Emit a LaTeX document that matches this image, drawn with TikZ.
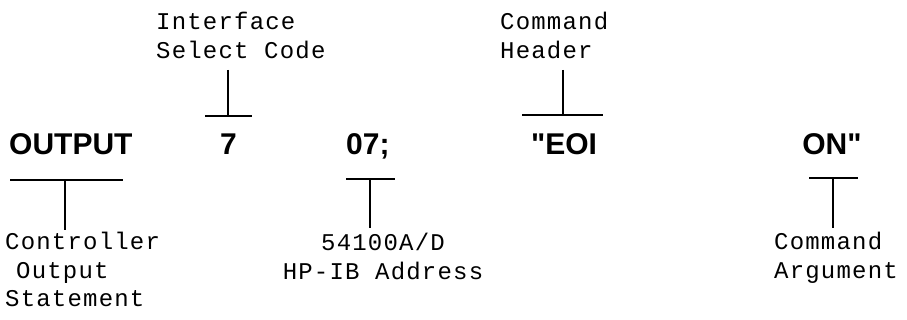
\documentclass[tikz,border=0pt]{standalone}
\usepackage{fontspec}
\setmainfont{Liberation Sans}
\newfontfamily\monofnt[LetterSpace=5]{Liberation Mono}
\newfontfamily\boldfnt{Liberation Sans Bold}
\begin{document}
\begin{tikzpicture}[x=1pt,y=-1pt,
  lbl/.style={inner sep=0pt,font=\monofnt\fontsize{24}{28.5}\selectfont},
  kw/.style={inner sep=0pt,anchor=base,font=\boldfnt\fontsize{30}{34}\selectfont},
  tee/.style={line width=1.1pt}]
\useasboundingbox (0,0) rectangle (907,320);
% keywords
\node[kw,anchor=base west] (out) at (9,155) {OUTPUT};
\node[kw] (isc) at (228.5,155) {7};
\node[kw,anchor=base west] (addr) at (346,155) {07;};
\node[kw] (hdr) at (564,155) {"EOI};
\node[kw] (arg) at (832,155) {ON"};
% labels
\node[lbl,anchor=north west,align=left] (iscl) at (156,12) {Interface\\Select Code};
\node[lbl,anchor=north west,align=left] (hdrl) at (500,12) {Command\\Header};
\node[lbl,anchor=north west,align=left] (outl) at (5,232) {Controller\\\hspace*{11pt}Output\\Statement};
\node[lbl,anchor=north,align=center] (addrl) at (383,233) {54100A/D\\HP-IB Address};
\node[lbl,anchor=north west,align=left] (argl) at (774,232) {Command\\Argument};
% tee coordinates
\coordinate (a1) at (228,70);  \coordinate (a2) at (228,116);
\coordinate (a3) at (205,116); \coordinate (a4) at (252,116);
\coordinate (b1) at (563,70);  \coordinate (b2) at (563,115);
\coordinate (b3) at (522,115); \coordinate (b4) at (603,115);
\coordinate (c1) at (65,230);  \coordinate (c2) at (65,180);
\coordinate (c3) at (10,180);  \coordinate (c4) at (123,180);
\coordinate (d1) at (370,228); \coordinate (d2) at (370,179);
\coordinate (d3) at (346,179); \coordinate (d4) at (395,179);
\coordinate (e1) at (833,228); \coordinate (e2) at (833,178);
\coordinate (e3) at (809,178); \coordinate (e4) at (858,178);
\draw[tee] (a1) -- (a2); \draw[tee] (a3) -- (a4);
\draw[tee] (b1) -- (b2); \draw[tee] (b3) -- (b4);
\draw[tee] (c1) -- (c2); \draw[tee] (c3) -- (c4);
\draw[tee] (d1) -- (d2); \draw[tee] (d3) -- (d4);
\draw[tee] (e1) -- (e2); \draw[tee] (e3) -- (e4);
\end{tikzpicture}
\end{document}
